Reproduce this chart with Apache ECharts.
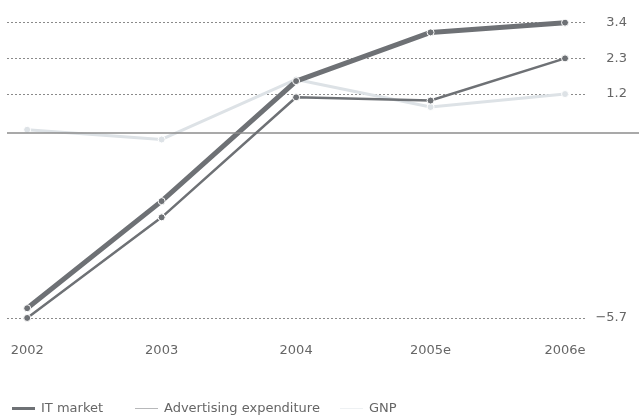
<!DOCTYPE html>
<html><head><meta charset="utf-8">
<script src="https://cdn.jsdelivr.net/npm/echarts@6/dist/echarts.min.js"></script>
<style>html,body{margin:0;padding:0;background:#fff}#c{width:642px;height:416px}</style>
</head><body><div id="c"></div>
<script>
const categories = ['2002', '2003', '2004', '2005e', '2006e'];
const itMarket = [-5.4, -2.1, 1.6, 3.1, 3.4];
const advertising = [-5.7, -2.6, 1.1, 1.0, 2.3];
const gnp = [0.1, -0.2, 1.65, 0.8, 1.2];
const tickValues = [-5.7, 1.2, 2.3, 3.4];
const seriesNames = ['IT market', 'Advertising expenditure', 'GNP'];

const DARK = '#6e7175';
const LIGHT = '#dde2e6';
const FONT = 'DejaVu Sans';

function pts(arr) { return arr.map((v, i) => [i, v]); }
function mk(name, data, color, width, z) {
  return {
    name, type: 'line', data: pts(data), z,
    symbol: 'circle', symbolSize: 7,
    lineStyle: { color, width },
    itemStyle: { color, borderColor: '#fff', borderWidth: 1 },
    emphasis: { disabled: true }
  };
}
const chart = echarts.init(document.getElementById('c'), null, { renderer: 'canvas' });
const s1 = mk(seriesNames[0], itMarket, DARK, 5, 4);
const s2 = mk(seriesNames[1], advertising, DARK, 2.5, 5);
const s3 = mk(seriesNames[2], gnp, LIGHT, 3, 3);
s3.markLine = {
  silent: true, symbol: 'none', label: { show: false },
  lineStyle: { color: '#8c8c8c', type: 'solid', width: 1.5 },
  data: [{ yAxis: 0 }]
};
const legendIcons = ['path://M0,0H50V10H0Z', 'path://M0,0H50V5H0Z', 'path://M0,0H50V5H0Z'];
const legendColors = [DARK, DARK, LIGHT];
const legendLefts = [5, 128, 333];
const legends = seriesNames.map((n, i) => ({
  left: legendLefts[i], top: 397, itemWidth: 25, itemHeight: 10,
  textStyle: { color: '#666', fontSize: 13, fontFamily: FONT },
  symbolKeepAspect: true,
  data: [{ name: n, icon: legendIcons[i], itemStyle: { color: legendColors[i] } }]
}));
chart.setOption({
  animation: false,
  textStyle: { fontFamily: FONT },
  grid: { left: 7, right: 0, top: 3.2, bottom: 88.3 },
  xAxis: {
    type: 'value', min: -0.15, max: 4.55,
    axisLine: { show: false }, axisTick: { show: false }, splitLine: { show: false },
    axisLabel: {
      customValues: categories.map((c, i) => i),
      formatter: v => categories[v],
      color: '#666', fontSize: 13, fontFamily: FONT, margin: 16
    }
  },
  yAxis: {
    type: 'value', position: 'right', min: -6, max: 4,
    axisLine: { show: false },
    axisTick: { show: false, customValues: tickValues },
    splitLine: { show: true, lineStyle: { color: '#8a8a8a', type: [2, 2], width: 1 } },
    axisLabel: {
      customValues: tickValues, inside: true, margin: 0,
      formatter: v => String(v).replace('-', '\u2212'),
      color: '#666', fontSize: 13, fontFamily: FONT,
      width: 40, align: 'right', backgroundColor: '#fff', padding: [2, 12, 2, 0]
    }
  },
  legend: legends,
  series: [s1, s2, s3]
});
</script></body></html>
